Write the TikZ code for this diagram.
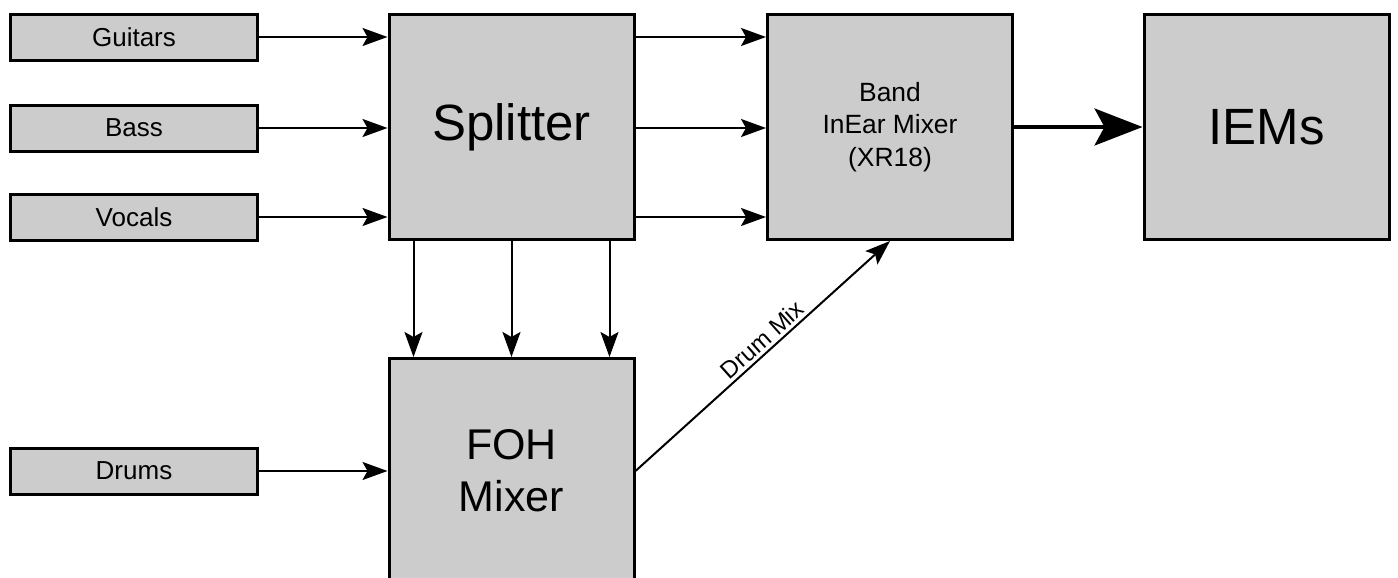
\documentclass[tikz,border=0pt]{standalone}
\usepackage{fontspec}
\setmainfont{Liberation Sans}
\usepackage{xcolor}
\usetikzlibrary{arrows.meta}
\definecolor{boxgray}{HTML}{CCCCCC}

\begin{document}
\begin{tikzpicture}[x=0.5pt,y=0.5pt,yscale=-1,xscale=1,
  srcbox/.style={draw, line width=1.5pt, fill=boxgray, minimum width=123.5pt, minimum height=23pt, inner sep=0pt, font=\fontsize{13}{15}\selectfont},
  bigbox/.style={draw, line width=1.5pt, fill=boxgray, minimum width=122.5pt, minimum height=112.5pt, inner sep=0pt, align=center},
  sig/.style={line width=1pt, -{Stealth[length=12.5pt,width=9pt,inset=2.5pt]}},
  fat/.style={line width=1.75pt, -{Stealth[length=24pt,width=18.5pt,inset=5pt]}}]
\useasboundingbox (0,0) rectangle (1398,578);
\clip (0,0) rectangle (1398,578);

%Shape: Sources
\node[srcbox] (guitars) at (134,37) {Guitars};
\node[srcbox] (bass) at (134,128) {Bass};
\node[srcbox] (vocals) at (134,217) {Vocals};
\node[srcbox] (drums) at (134,471) {Drums};

%Shape: Mixers
\node[bigbox, font=\fontsize{25.5}{30}\selectfont] (splitter) at (511.5,127) {Splitter};
\node[bigbox, font=\fontsize{13.2}{16.25}\selectfont] (band) at (890,127) {Band\\InEar Mixer\\(XR18)};
\node[bigbox, font=\fontsize{25.5}{30}\selectfont] (iems) at (1266.5,127) {IEMs};
\node[bigbox, font=\fontsize{21.5}{26}\selectfont] (foh) at (511.5,471) {FOH\\Mixer};

%Straight Lines: inputs and splits
\foreach \s in {guitars,bass,vocals} {
  \draw[sig] (\s.east) -- (\s.east -| splitter.west);
  \draw[sig] (\s.east -| splitter.east) -- (\s.east -| band.west);
}
\draw[sig] (drums.east) -- (drums.east -| foh.west);
\foreach \dx in {-49pt,0pt,49pt}
  \draw[sig] ([xshift=\dx]splitter.south) -- ([xshift=\dx]splitter.south |- foh.north);

%Straight Lines: drum mix and output
\draw[sig] (foh.east) -- (band.south) node[pos=0.53, anchor=south, rotate=41.7, font=\fontsize{12}{14}\selectfont, inner sep=1.5pt] (drummix) {Drum Mix};
\draw[fat] (band) -- (iems);
\end{tikzpicture}
\end{document}
